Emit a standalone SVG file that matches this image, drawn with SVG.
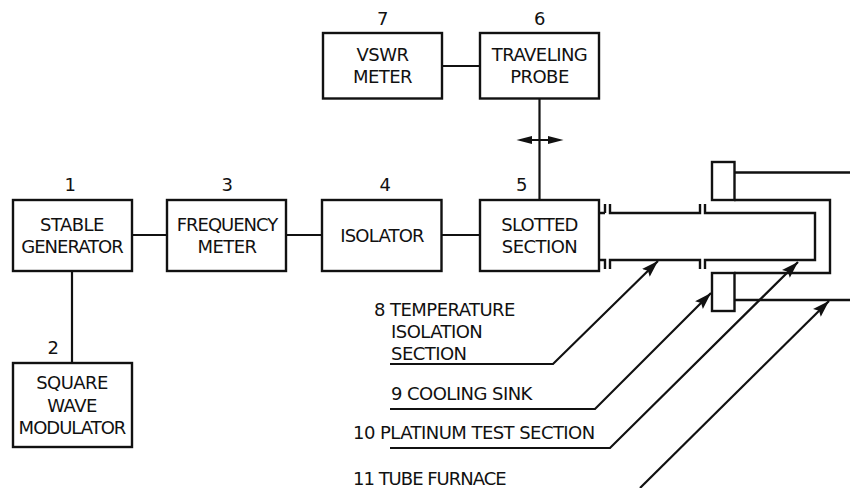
<svg xmlns="http://www.w3.org/2000/svg" width="850" height="488" viewBox="0 0 850 488">
<style>
rect{fill:#fff;stroke:#111;stroke-width:2.4}
.l{fill:none;stroke:#111;stroke-width:2.2}
.t{fill:none;stroke:#111;stroke-width:2.4}
.h{fill:#111}
text{font-family:"DejaVu Sans",sans-serif;font-size:18px;fill:#111;letter-spacing:-.55px}
.m{text-anchor:middle}
.n{letter-spacing:-1px}
.o{letter-spacing:-.8px}
</style>
<defs>
<marker id="a" markerUnits="userSpaceOnUse" markerWidth="20" markerHeight="14" refX="17" refY="7" orient="auto"><path d="M0 1.500L17 7L0 12.500L3 7Z" fill="#111"/></marker>
</defs>
<g id="connectors">
<path class="l" d="M132 235H167M286 235H322M441 235H480M442 66H480M72 270V362M539.500 98V200"/>
<path class="l" d="M522 140H558"/>
<path class="h" d="M516.500 140L532 136V144ZM563.500 140L548 136V144Z"/>
<path class="l" d="M390 364H553L658 261" marker-end="url(#a)"/>
<path class="l" d="M390 409H595L711 293" marker-end="url(#a)"/>
<path class="l" d="M390 448H610L798 262" marker-end="url(#a)"/>
<path class="l" d="M640 488L829 301" marker-end="url(#a)"/>
</g>
<g id="tube">
<path class="t" d="M600 213H605M605 204V213M610 204V213H700V204M705 204V213H815V260H705V269M700 269V260H610V269M605 269V260H600"/>
<path class="t" d="M734 200H830V273H734M734 172.500H850M734 300H850"/>
</g>
<g id="n1"><rect x="13" y="200" width="119" height="71"/><text class="m" x="70" y="191">1</text><text class="m" x="72" y="231">STABLE</text><text class="m n" x="72" y="253">GENERATOR</text></g>
<g id="n2"><rect x="13" y="363" width="119" height="84"/><text class="m" x="53" y="354">2</text><text class="m" x="72" y="389">SQUARE</text><text class="m" x="72" y="412">WAVE</text><text class="m n" x="72" y="434">MODULATOR</text></g>
<g id="n3"><rect x="167" y="200" width="119" height="71"/><text class="m" x="227" y="191">3</text><text class="m n" x="227" y="231">FREQUENCY</text><text class="m" x="227" y="253">METER</text></g>
<g id="n4"><rect x="322" y="200" width="119.500" height="71"/><text class="m" x="385" y="191">4</text><text class="m o" x="382" y="242">ISOLATOR</text></g>
<g id="n5"><rect x="480" y="200" width="119" height="71"/><text class="m" x="521.500" y="191">5</text><text class="m o" x="539.500" y="231">SLOTTED</text><text class="m" x="539.500" y="253">SECTION</text></g>
<g id="n6"><rect x="480" y="33" width="119" height="65.500"/><text class="m" x="539.500" y="25">6</text><text class="m" x="539.500" y="61">TRAVELING</text><text class="m" x="539.500" y="83">PROBE</text></g>
<g id="n7"><rect x="323" y="33" width="119" height="65.500"/><text class="m" x="382.500" y="25">7</text><text class="m" x="382.500" y="61">VSWR</text><text class="m" x="382.500" y="83">METER</text></g>
<g id="f1"><rect x="712" y="162" width="22.500" height="38"/></g>
<g id="f2"><rect x="712" y="273" width="22.500" height="38"/></g>
<g id="labels">
<text x="374" y="316">8 TEMPERATURE</text>
<text x="391" y="338">ISOLATION</text>
<text x="391" y="360">SECTION</text>
<text x="391" y="400">9 COOLING SINK</text>
<text x="353" y="439">10 PLATINUM TEST SECTION</text>
<text class="n" x="353" y="485">11 TUBE FURNACE</text>
</g>
</svg>
